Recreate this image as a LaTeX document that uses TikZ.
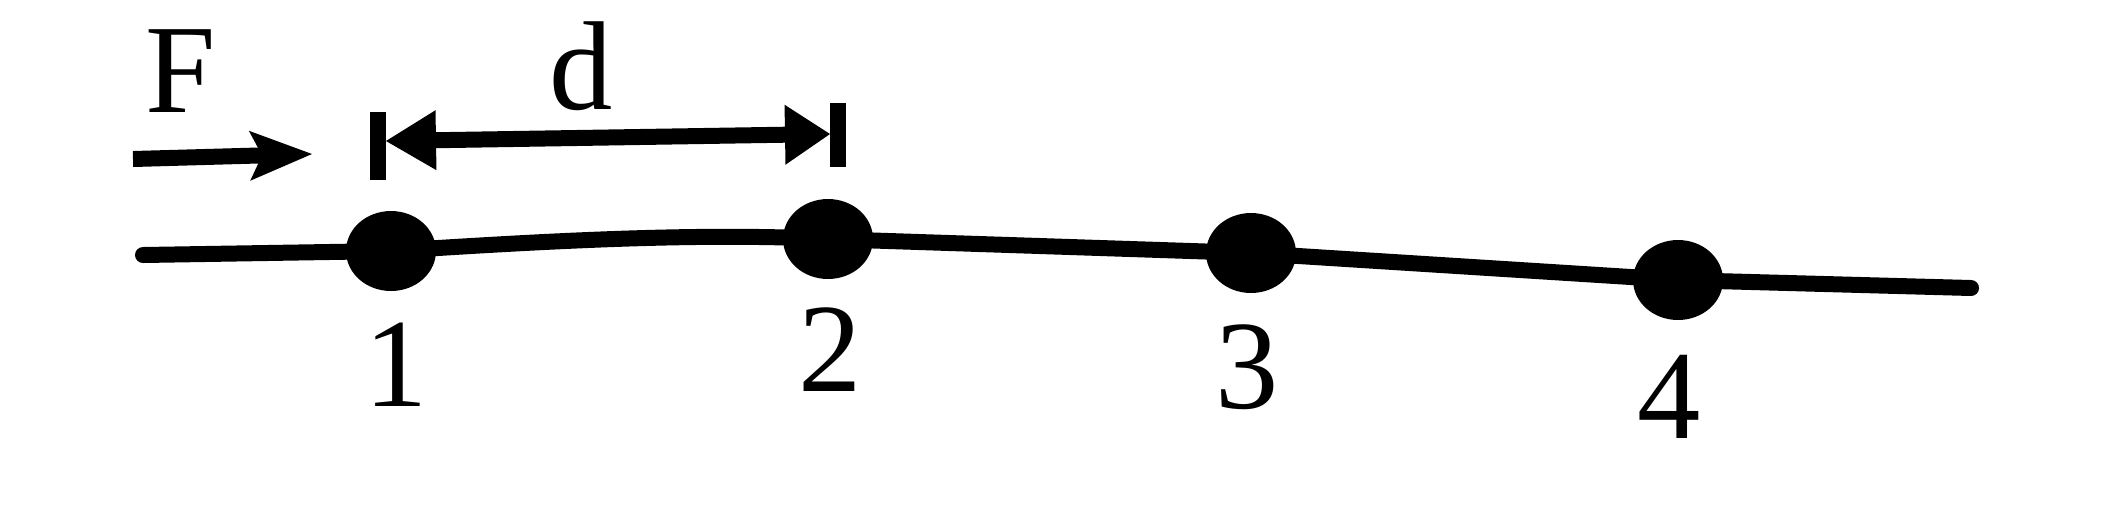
\documentclass[tikz,border=0pt]{standalone}
\usepackage{fontspec}
\setmainfont{Liberation Serif}
\usetikzlibrary{arrows.meta,shapes.geometric}
\begin{document}
\begin{tikzpicture}[x=0.02cm,y=0.02cm,
  ln/.style={line width=0.32cm},
  dot/.style={ellipse,fill=black,minimum width=1.8cm,minimum height=1.6cm,inner sep=0pt},
  lbl/.style={font=\fontsize{72}{80}\selectfont,inner sep=0pt}]
\useasboundingbox (0,0) rectangle (2112,-522);
% balls
\node[dot] (p1) at (391,-251) {};
\node[dot] (p2) at (828,-239) {};
\node[dot] (p3) at (1251,-253) {};
\node[dot] (p4) at (1678,-280) {};
% string
\coordinate (L) at (143,-255);
\coordinate (R) at (1971,-288);
\draw[ln,line cap=round] (L) -- (p1.center) .. controls (560,-240) and (700,-233) .. (p2.center) -- (p3.center) -- (p4.center) -- (R);
% labels
\node[lbl] (n1) at (396,-365) {1};
\node[lbl] (n2) at (830,-350) {2};
\node[lbl] (n3) at (1247,-367) {3};
\node[lbl] (n4) at (1669,-397) {4};
\node[lbl] (F) at (181,-71) {F};
\node[lbl] (d) at (581,-66) {d};
% force arrow
\coordinate (fa) at (133,-159);
\coordinate (fb) at (312,-154);
\draw[ln,-{Stealth[length=1.25cm,width=1.0cm,inset=0.25cm,line width=0pt]}] (fa) -- (fb);
% dimension ticks
\coordinate (t1a) at (378,-112);
\coordinate (t1b) at (378,-180);
\coordinate (t2a) at (838,-103);
\coordinate (t2b) at (838,-167);
\draw[ln] (t1a) -- (t1b);
\draw[ln] (t2a) -- (t2b);
% dimension arrow
\coordinate (da) at (386,-141);
\coordinate (db) at (830,-134);
\draw[ln,{Triangle[length=1.0cm,width=1.2cm,line width=0pt]}-{Triangle[length=0.9cm,width=1.2cm,line width=0pt]}] (da) -- (db);
\end{tikzpicture}
\end{document}
